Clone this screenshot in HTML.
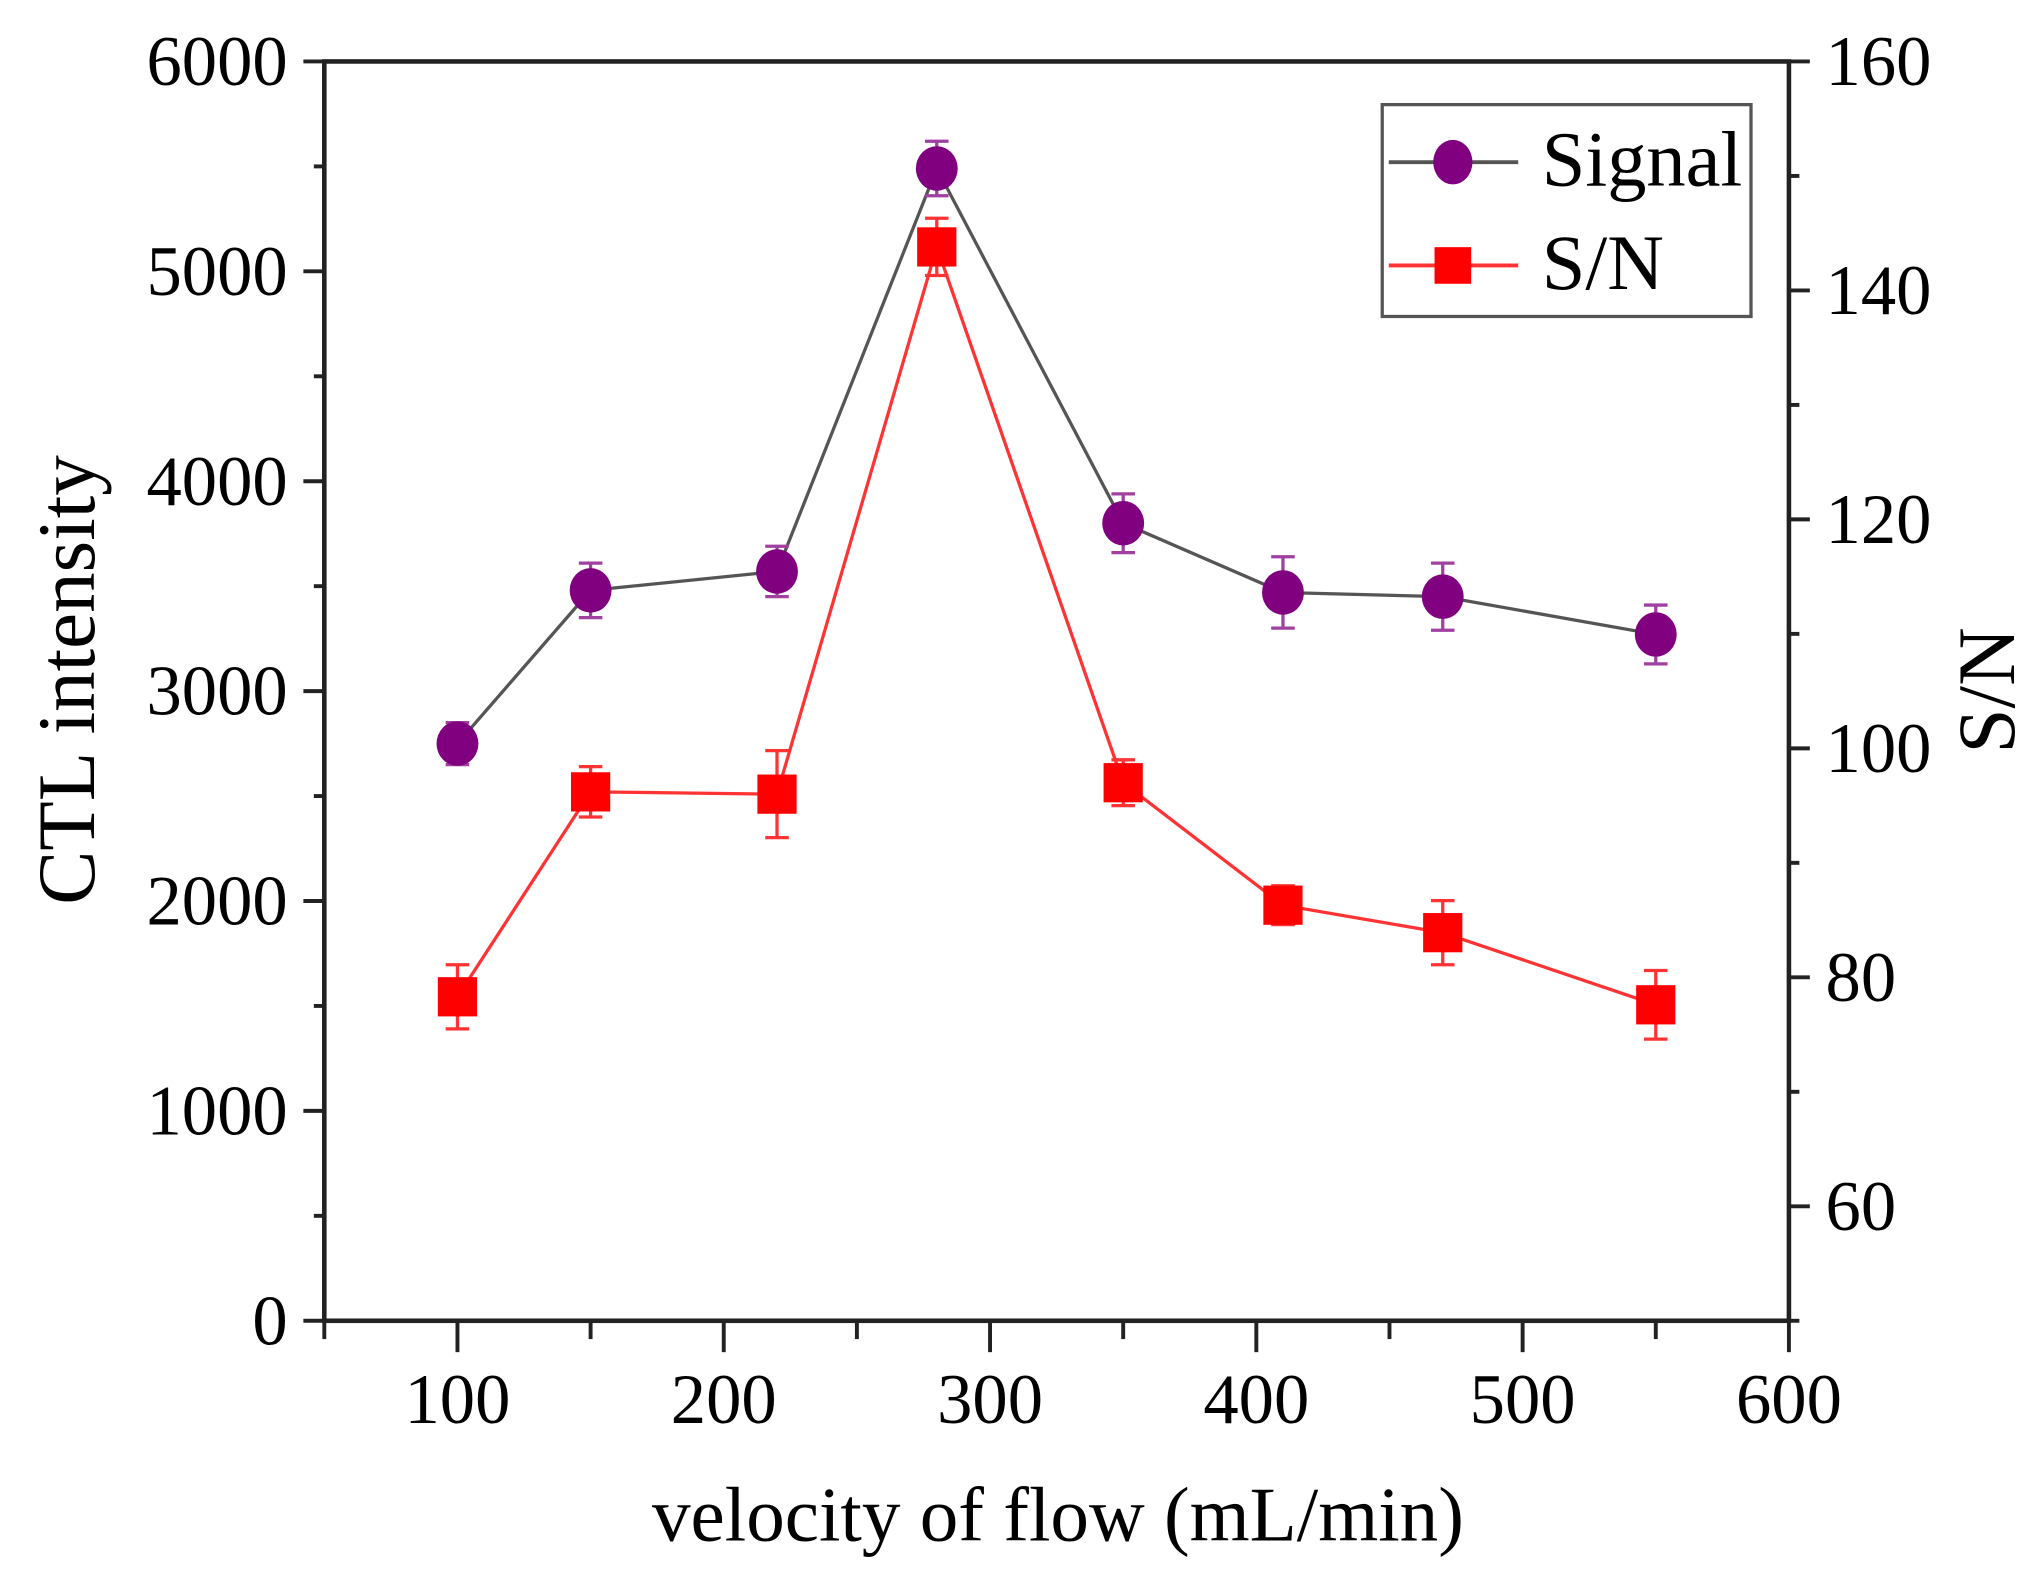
<!DOCTYPE html>
<html><head><meta charset="utf-8"><style>
html,body{margin:0;padding:0;background:#fff;}
svg{display:block;font-family:"Liberation Serif",serif;}
</style></head><body>
<svg id="chart" width="2040" height="1581" viewBox="0 0 1560 1209" xmlns="http://www.w3.org/2000/svg">
<g id="axes"></g>
<g id="series"></g>
<text x="809" y="1178" font-size="59" text-anchor="middle">velocity of flow (mL/min)</text>
<text transform="translate(72,520) rotate(-90)" font-size="62" text-anchor="middle">CTL intensity</text>
<text transform="translate(1540,528) rotate(-90)" font-size="62" text-anchor="middle">S/N</text>
<g>
<rect x="1057" y="80" width="282" height="162" fill="#fff" stroke="#555" stroke-width="2.5"/>
<g>
<line x1="1062" y1="124" x2="1161" y2="124" stroke="#555" stroke-width="3"/>
<ellipse cx="1111" cy="124" rx="15" ry="17" fill="#800080"/>
<text x="1179" y="142" font-size="60">Signal</text>
</g>
<g>
<line x1="1062" y1="203" x2="1161" y2="203" stroke="#f33" stroke-width="3"/>
<rect x="1097" y="189" width="28" height="28" fill="#f00"/>
<text x="1179" y="221" font-size="60">S/N</text>
</g>
</g>
<script>
const xValues=[100,150,220,280,350,410,470,550];
const signalValues=[2750,3480,3570,5490,3800,3470,3450,3270];
const signalErrors=[100,130,120,130,140,170,160,140];
const snValues=[78.3,96.2,96.0,143.8,97.0,86.3,83.9,77.6];
const snErrors=[2.8,2.2,3.8,2.5,2.0,1.7,2.8,3.0];
const xTicks=[100,200,300,400,500,600];
const yTicks=[0,1000,2000,3000,4000,5000,6000];
const y2Ticks=[60,80,100,120,140,160];

const L=248,R=1368,T=47,B=1010;
const sx=v=>L+(v-50)/550*(R-L);
const sy=v=>B-v/6000*(B-T);
const sy2=v=>B-(v-50)/110*(B-T);
const NS="http://www.w3.org/2000/svg";
function mk(tag,attrs,parent){const e=document.createElementNS(NS,tag);for(const k in attrs)e.setAttribute(k,attrs[k]);parent.appendChild(e);return e;}
const ax=document.getElementById('axes');
const se=document.getElementById('series');
let f=mk('rect',{x:L,y:T,width:R-L,height:B-T,fill:'none',stroke:'#222','stroke-width':3.5},ax);


for(let v=50;v<=600;v+=50){const major=v%100===0;let t=mk('line',{x1:sx(v),y1:B,x2:sx(v),y2:B+(major?24:14),stroke:'#222','stroke-width':3},ax);

}
xTicks.forEach(v=>{let t=mk('text',{x:sx(v),y:1088,'font-size':54,'text-anchor':'middle'},ax);t.textContent=v;

});
for(let v=0;v<=6000;v+=500){const major=v%1000===0;let t=mk('line',{x1:L-(major?16:8),y1:sy(v),x2:L,y2:sy(v),stroke:'#222','stroke-width':3},ax);

}
yTicks.forEach(v=>{let t=mk('text',{x:L-28,y:sy(v)+18,'font-size':54,'text-anchor':'end'},ax);t.textContent=v;

});
for(let v=50;v<=160;v+=10){const major=v%20===0;let t=mk('line',{x1:R,y1:sy2(v),x2:R+(major?16:8),y2:sy2(v),stroke:'#222','stroke-width':3},ax);

}
y2Ticks.forEach(v=>{let t=mk('text',{x:R+28,y:sy2(v)+18,'font-size':54,'text-anchor':'start'},ax);t.textContent=v;

});
let p2=mk('polyline',{points:xValues.map((x,i)=>sx(x)+','+sy2(snValues[i])).join(' '),fill:'none',stroke:'#f33','stroke-width':2.5},se);


let p1=mk('polyline',{points:xValues.map((x,i)=>sx(x)+','+sy(signalValues[i])).join(' '),fill:'none',stroke:'#555','stroke-width':2.5},se);


xValues.forEach((x,i)=>{
 const cx=sx(x);
 const yt=sy2(snValues[i]+snErrors[i]),yb=sy2(snValues[i]-snErrors[i]);
 let e=mk('path',{d:`M${cx},${yt}V${yb}M${cx-9},${yt}H${cx+9}M${cx-9},${yb}H${cx+9}`,stroke:'#f33','stroke-width':2.5,fill:'none'},se);
 
 
 let m=mk('rect',{x:cx-15,y:sy2(snValues[i])-15,width:30,height:30,fill:'#f00'},se);
 
 
});
xValues.forEach((x,i)=>{
 const cx=sx(x);
 const yt=sy(signalValues[i]+signalErrors[i]),yb=sy(signalValues[i]-signalErrors[i]);
 let e=mk('path',{d:`M${cx},${yt}V${yb}M${cx-9},${yt}H${cx+9}M${cx-9},${yb}H${cx+9}`,stroke:'#a040a0','stroke-width':2.5,fill:'none'},se);
 
 
 let m=mk('ellipse',{cx:cx,cy:sy(signalValues[i]),rx:16,ry:17,fill:'#800080'},se);
 
 
});
</script>
</svg>
</body></html>
